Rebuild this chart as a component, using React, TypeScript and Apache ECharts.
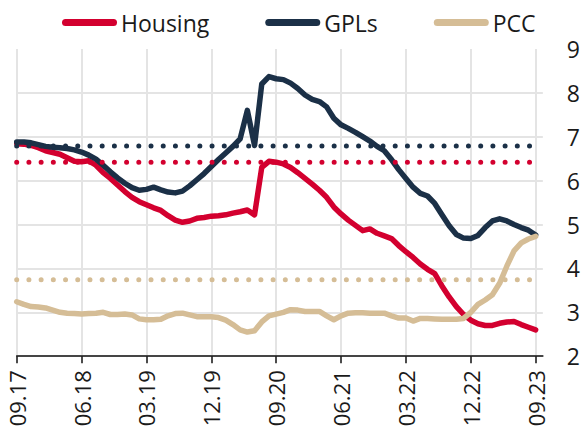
import React, { useEffect, useRef } from "react";
import * as echarts from "echarts";

// Month labels 09.17 ... 10.23 (last one is an empty slot at the right edge)
const startYear = 17;
const startMonth = 9;
const monthCount = 74;
const categories: string[] = Array.from({ length: monthCount }, (_, k) => {
  const m0 = startMonth - 1 + k;
  const m = (m0 % 12) + 1;
  const y = startYear + Math.floor(m0 / 12);
  return `${String(m).padStart(2, "0")}.${String(y).padStart(2, "0")}`;
});

const housing = [
  6.84, 6.83, 6.80, 6.75, 6.68, 6.64, 6.60, 6.52, 6.44, 6.43,
  6.45, 6.35, 6.18, 6.05, 5.90, 5.75, 5.62, 5.52, 5.45, 5.38,
  5.32, 5.20, 5.10, 5.05, 5.08, 5.14, 5.16, 5.19, 5.20, 5.22,
  5.26, 5.29, 5.33, 5.22, 6.30, 6.44, 6.42, 6.38, 6.30, 6.18,
  6.05, 5.92, 5.78, 5.62, 5.40, 5.24, 5.10, 4.98, 4.86, 4.90,
  4.80, 4.74, 4.68, 4.52, 4.38, 4.25, 4.10, 3.98, 3.88, 3.60,
  3.35, 3.13, 2.95, 2.82, 2.74, 2.70, 2.70, 2.75, 2.78, 2.79,
  2.72, 2.66, 2.60,
];

const gpls = [
  6.88, 6.88, 6.86, 6.82, 6.78, 6.76, 6.75, 6.73, 6.70, 6.65,
  6.58, 6.49, 6.35, 6.20, 6.06, 5.94, 5.84, 5.78, 5.80, 5.85,
  5.79, 5.74, 5.72, 5.76, 5.88, 6.02, 6.16, 6.32, 6.48, 6.63,
  6.78, 6.95, 7.60, 6.80, 8.20, 8.37, 8.32, 8.30, 8.22, 8.10,
  7.95, 7.85, 7.80, 7.68, 7.42, 7.27, 7.19, 7.10, 7.00, 6.90,
  6.78, 6.68, 6.48, 6.25, 6.05, 5.85, 5.71, 5.65, 5.48, 5.22,
  4.97, 4.77, 4.69, 4.68, 4.75, 4.93, 5.08, 5.13, 5.08, 5.00,
  4.93, 4.87, 4.76,
];

const pcc = [
  3.24, 3.18, 3.13, 3.12, 3.10, 3.05, 3.00, 2.98, 2.97, 2.96,
  2.97, 2.98, 3.00, 2.95, 2.95, 2.96, 2.94, 2.85, 2.83, 2.83,
  2.84, 2.92, 2.97, 2.98, 2.94, 2.90, 2.90, 2.90, 2.88, 2.82,
  2.72, 2.60, 2.55, 2.58, 2.78, 2.92, 2.96, 3.00, 3.06, 3.05,
  3.02, 3.02, 3.02, 2.92, 2.83, 2.92, 2.98, 2.99, 2.99, 2.98,
  2.98, 2.98, 2.92, 2.87, 2.87, 2.80, 2.86, 2.86, 2.85, 2.84,
  2.84, 2.84, 2.86, 3.00, 3.18, 3.28, 3.40, 3.66, 4.05, 4.40,
  4.58, 4.67, 4.73,
];

// Long-run averages (dotted lines)
const housingAvg = 6.42;
const gplsAvg = 6.79;
const pccAvg = 3.74;

const yTicks = { min: 2, max: 9, interval: 1 };

const RED = "#d3002f";
const NAVY = "#1b3047";
const BEIGE = "#d5bd96";

export default function App() {
  const ref = useRef<HTMLDivElement>(null);

  useEffect(() => {
    if (!ref.current) return;
    const chart = echarts.init(ref.current, undefined, { renderer: "svg" });
    const n = housing.length;
    const flat = (v: number) => Array.from({ length: n }, () => v);
    const mainLine = (name: string, data: number[], color: string) => ({
      name,
      type: "line",
      data,
      showSymbol: false,
      symbol: "none",
      color,
      lineStyle: { width: 5.5, color, cap: "round", join: "round" },
      z: 2,
    });
    const dotLine = (name: string, v: number, color: string) => ({
      name,
      type: "line",
      data: flat(v),
      showSymbol: false,
      symbol: "none",
      silent: true,
      lineStyle: { width: 5, color, type: [0.01, 12.2], cap: "round" },
      z: 3,
    });

    chart.setOption({
      animation: false,
      textStyle: { fontFamily: "Open Sans" },
      legend: {
        data: ["Housing", "GPLs", "PCC"],
        left: 57,
        top: 6,
        itemWidth: 55,
        itemHeight: 7,
        itemGap: 56,
        icon: "path://M3.5,0 L51.5,0 A3.5,3.5 0 0 1 51.5,7 L3.5,7 A3.5,3.5 0 0 1 3.5,0 Z",
        textStyle: { fontSize: 23, color: "#1a1a1a", fontFamily: "Open Sans", padding: [0, 0, 0, -1] },
      },
      grid: { left: 16.7, right: 39.6, top: 48.9, bottom: 80.8, containLabel: false },
      xAxis: {
        type: "category",
        data: categories,
        boundaryGap: false,
        axisLine: { show: true, lineStyle: { color: "#111", width: 1.5 } },
        axisTick: { show: true, interval: 8, length: 7, lineStyle: { color: "#111", width: 1.5 } },
        axisLabel: {
          interval: 8,
          rotate: 90,
          margin: 14,
          fontSize: 22,
          color: "#1a1a1a",
          fontFamily: "Open Sans",
        },
        splitLine: { show: true, interval: 8, lineStyle: { color: "#e4e4e4", width: 2 } },
      },
      yAxis: {
        type: "value",
        position: "right",
        min: yTicks.min,
        max: yTicks.max,
        interval: yTicks.interval,
        axisLine: { show: false },
        axisTick: { show: false },
        axisLabel: { margin: 24, fontSize: 23, color: "#1a1a1a", fontFamily: "Open Sans" },
        splitLine: { show: true, showMaxLine: false, lineStyle: { color: "#e4e4e4", width: 2 } },
      },
      series: [
        mainLine("Housing", housing, RED),
        mainLine("GPLs", gpls, NAVY),
        mainLine("PCC", pcc, BEIGE),
        dotLine("Housing avg", housingAvg, RED),
        dotLine("GPLs avg", gplsAvg, NAVY),
        dotLine("PCC avg", pccAvg, BEIGE),
      ],
    });
    return () => chart.dispose();
  }, []);

  return (
    <div
      ref={ref}
      style={{ position: "fixed", left: 0, top: 0, width: 583, height: 437, background: "#fff" }}
    />
  );
}
